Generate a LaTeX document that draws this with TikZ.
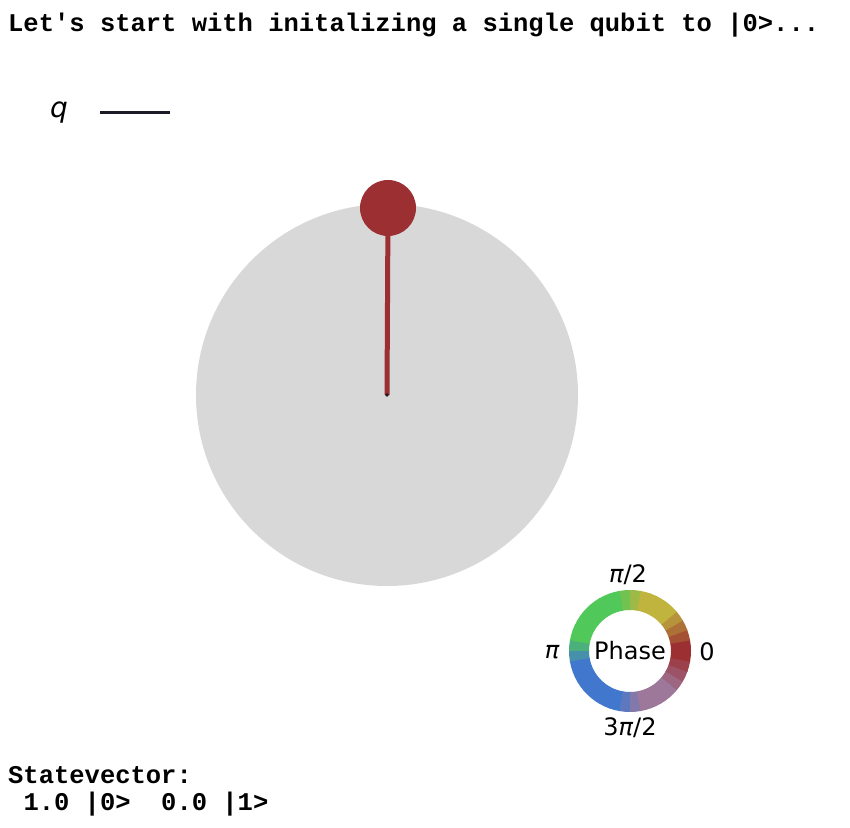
\documentclass[tikz,border=0pt]{standalone}
\usepackage{fontspec}
\setmonofont{Liberation Mono}
\newfontfamily\mplfont{DejaVu Sans}
\usetikzlibrary{positioning}
\definecolor{qred}{RGB}{155,47,50}
\definecolor{qyel}{RGB}{192,180,62}
\definecolor{qgrn}{RGB}{80,200,90}
\definecolor{qblu}{RGB}{65,120,205}
\definecolor{qpur}{RGB}{158,120,155}
\definecolor{sphere}{RGB}{216,216,216}
\definecolor{wire}{RGB}{28,26,38}
\tikzset{
  console/.style={font=\fontsize{25.5}{30}\selectfont\ttfamily\bfseries, anchor=base west, inner sep=0pt},
  mpl/.style={font=\fontsize{24}{28}\selectfont\mplfont, inner sep=0pt}
}

\begin{document}
\begin{tikzpicture}[x=1pt, y=1pt]
    \useasboundingbox[fill=white] (0,0) rectangle (850,827);
    % 标题
    \node[console] (title) at (8,795) {Let's start with initalizing a single qubit to |0>...};
    % 量子线
    \node[mpl, font=\fontsize{28}{32}\selectfont\mplfont\itshape] (qlab) at (59,714) {q};
    \coordinate (wirestart) at (100,714);
    \coordinate (wireend) at (170,714);
    \draw[line width=3pt, wire] (wirestart) -- (wireend);
    % 球面
    \coordinate (origin) at (387,432);
    \fill[sphere] (origin) circle (191);
    \node[circle, fill=qred, minimum size=56pt, inner sep=0pt] (ball) at (388,619) {};
    \draw[line width=5pt, qred] (origin) -- (ball.center);
    \fill[wire] (origin) circle (1.8);
    % 相位色环
    \coordinate (wheel) at (630,176);
    \begin{scope}[shift={(wheel)}]
      \foreach \a/\c in {0/qred, 10/qred!75!qyel, 20/qred!50!qyel, 30/qred!25!qyel,
          40/qyel, 50/qyel, 60/qyel, 70/qyel, 80/qyel!70!qgrn, 90/qyel!30!qgrn,
          100/qgrn, 110/qgrn, 120/qgrn, 130/qgrn, 140/qgrn, 150/qgrn, 160/qgrn,
          170/qgrn!70!qblu, 180/qgrn!30!qblu, 190/qblu, 200/qblu, 210/qblu, 220/qblu,
          230/qblu, 240/qblu, 250/qblu, 260/qblu!70!qpur, 270/qblu!30!qpur,
          280/qpur, 290/qpur, 300/qpur, 310/qpur, 320/qpur!75!qred,
          330/qpur!50!qred, 340/qpur!25!qred, 350/qred}
        \fill[\c] (\a:61) arc[start angle=\a, delta angle=10.6, radius=61]
          -- (\a+10.6:41) arc[start angle=\a+10.6, delta angle=-10.6, radius=41] -- cycle;
    \end{scope}
    \node[mpl] (phase) at (wheel) {Phase};
    \node[mpl] (phtop) at (628,252) {{\itshape π}/2};
    \node[mpl] (phright) at (707,175) {0};
    \node[mpl] (phleft) at (552,175) {\itshape π};
    \node[mpl] (phbottom) at (630,99) {3{\itshape π}/2};
    % 态矢量
    \node[console] (svhead) at (8,44) {Statevector:};
    \node[console] (svbody) at (8,17) {\ 1.0 |0>\ \ 0.0 |1>};
\end{tikzpicture}
\end{document}
